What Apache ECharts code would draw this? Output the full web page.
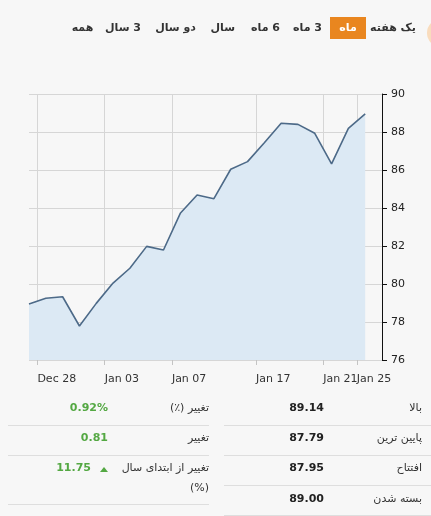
<!DOCTYPE html>
<html>
<head>
<meta charset="utf-8">
<script src="https://cdn.jsdelivr.net/npm/echarts@6/dist/echarts.min.js"></script>
<style>
  html, body { margin:0; padding:0; background:#f7f7f7; }
  #wrap { position:relative; width:431px; height:516px; overflow:hidden; background:#f7f7f7; font-family:"DejaVu Sans", sans-serif; }
  #chart { position:absolute; left:0; top:0; width:431px; height:516px; }
  .btn { position:absolute; top:17px; height:22px; line-height:22px; font-size:11px; font-weight:bold; color:#333; text-align:center; white-space:nowrap; }
  .btn.active { background:#e9861f; color:#fff; }
  .cell { position:absolute; font-size:11px; white-space:nowrap; color:#333; }
  .lab { text-align:right; direction:rtl; }
  .val { text-align:right; font-weight:bold; color:#222; }
  .green { color:#54a843; }
  .sep { position:absolute; height:1px; background:#dedede; }
  .circ { position:absolute; left:427px; top:19px; width:28px; height:28px; border-radius:50%; background:#f9dcbd; }
</style>
</head>
<body>
<div id="wrap">
  <div id="chart"></div>
</div>
<script>
// ---- data ----
const prices = [78.95, 79.25, 79.33, 77.79, 78.98, 80.05, 80.83, 81.98, 81.79, 83.72, 84.68, 84.49, 86.04, 86.44, 87.43, 88.46, 88.40, 87.93, 86.32, 88.19, 88.95];
const tickLabels = ['Dec 28', 'Jan 03', 'Jan 07', 'Jan 17', 'Jan 21', 'Jan 25'];
const tickSlots = [0.5, 4.5, 8.5, 13.5, 17.5, 19.5];
const yTicks = [76, 78, 80, 82, 84, 86, 88, 90];
const rangeButtons = ['یک هفته', 'ماه', '3 ماه', '6 ماه', 'سال', 'دو سال', '3 سال', 'همه'];
const activeButton = 'ماه';
const statsRightLabels = ['بالا', 'پایین ترین', 'افتتاح', 'بسته شدن'];
const statsRightValues = ['89.14', '87.79', '87.95', '89.00'];
const statsLeftLabels = ['تغییر (٪)', 'تغییر', 'تغییر از ابتدای سال'];
const statsLeftValues = ['0.92%', '0.81', '11.75'];

// ---- HTML parts ----
const wrap = document.getElementById('wrap');
const btnBoxes = [[372, 44], [330, 36], [296, 26], [250, 31], [212, 23], [159, 37], [110, 31], [71, 23]];
rangeButtons.forEach((t, i) => {
  const d = document.createElement('div');
  d.className = 'btn' + (t === activeButton ? ' active' : '');
  d.dir = 'rtl';
  d.style.left = btnBoxes[i][0] + 'px';
  d.style.width = btnBoxes[i][1] + 'px';
  d.textContent = t;
  wrap.appendChild(d);
});
const c = document.createElement('div'); c.className = 'circ'; wrap.appendChild(c);

function addCell(text, cls, right, top) {
  const d = document.createElement('div');
  d.className = 'cell ' + cls;
  d.style.right = (431 - right) + 'px';
  d.style.top = top + 'px';
  if (cls.indexOf('lab') >= 0) d.dir = 'rtl';
  d.textContent = text;
  wrap.appendChild(d);
}
function addSep(l, r, y) {
  const d = document.createElement('div');
  d.className = 'sep';
  d.style.left = l + 'px'; d.style.width = (r - l) + 'px'; d.style.top = y + 'px';
  wrap.appendChild(d);
}
const rowY = [401, 431, 461, 492];
statsRightLabels.forEach((t, i) => addCell(t, 'lab', 422, rowY[i]));
statsRightValues.forEach((t, i) => addCell(t, 'val', 324, rowY[i]));
[425, 455, 485, 515].forEach(y => addSep(224, 431, y));
statsLeftLabels.forEach((t, i) => addCell(t, 'lab', 209, rowY[i]));
addCell('(%)', 'lab', 209, 481);
statsLeftValues.forEach((t, i) => addCell(t, 'val green', i === 2 ? 91 : 108, rowY[i]));
const tri = document.createElement('div');
tri.style.cssText = 'position:absolute;left:100px;top:467px;width:0;height:0;border-left:4.5px solid transparent;border-right:4.5px solid transparent;border-bottom:5px solid #54a843;';
wrap.appendChild(tri);
[425, 455, 504].forEach(y => addSep(8, 209, y));

// ---- chart ----
// the last two date labels touch each other, so the last one is drawn by a twin axis
const mainSlots = tickSlots.slice(0, -1);
const lastSlots = tickSlots.slice(-1);
const labelFmt = v => { const k = tickSlots.indexOf(v); return k >= 0 ? tickLabels[k] : ''; };
function xAxisFor(slots, withGrid) {
  return {
    type: 'value',
    position: 'bottom',
    min: 0,
    max: 21,
    axisLine: { show: false, onZero: false },
    axisTick: { show: true, length: 5, lineStyle: { color: '#c4c4c4' }, customValues: slots },
    axisLabel: {
      customValues: slots,
      align: 'left',
      margin: 14,
      color: '#333',
      fontSize: 11,
      fontFamily: 'DejaVu Sans',
      hideOverlap: false,
      showMinLabel: true,
      showMaxLabel: true,
      formatter: labelFmt
    },
    splitLine: { show: true, lineStyle: { color: '#d6d6d6', width: 1 } }
  };
}
const chart = echarts.init(document.getElementById('chart'), null, { renderer: 'canvas' });
chart.setOption({
  backgroundColor: 'transparent',
  animation: false,
  grid: { left: 29, right: 49, top: 94, bottom: 156, outerBoundsMode: 'none', containLabel: false },
  xAxis: [xAxisFor(mainSlots, true), xAxisFor(lastSlots, true)],
  yAxis: {
    type: 'value',
    position: 'right',
    min: yTicks[0],
    max: yTicks[yTicks.length - 1],
    interval: 2,
    axisLine: { show: true, onZero: false, lineStyle: { color: '#111', width: 1 } },
    axisTick: { show: true, length: 5, lineStyle: { color: '#111' } },
    axisLabel: { margin: 9, color: '#222', fontSize: 11, fontFamily: 'DejaVu Sans' },
    splitLine: { show: true, lineStyle: { color: '#d6d6d6', width: 1 } }
  },
  series: [{
    type: 'line',
    xAxisIndex: 0,
    data: prices.map((v, i) => [i, v]),
    showSymbol: false,
    symbol: 'none',
    lineStyle: { color: '#4d6a88', width: 1.6 },
    areaStyle: { color: '#dce9f4', opacity: 1 },
    z: 3
  }]
});
</script>
</body>
</html>
